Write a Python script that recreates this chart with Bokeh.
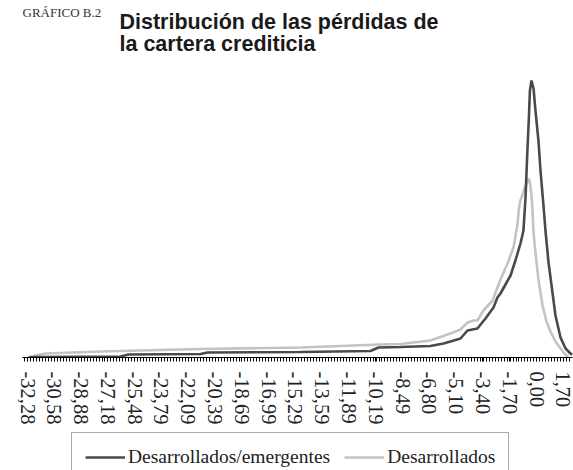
import numpy as np
from bokeh.plotting import figure
from bokeh.layouts import column
from bokeh.models import Range1d, FixedTicker, Legend, LegendItem, Label
from bokeh.embed import file_html
from bokeh.resources import INLINE

# Tick labels of the category axis (loss values, %)
tick_labels = ["-32,28", "-30,58", "-28,88", "-27,18", "-25,48", "-23,79", "-22,09",
               "-20,39", "-18,69", "-16,99", "-15,29", "-13,59", "-11,89", "-10,19",
               "-8,49", "-6,80", "-5,10", "-3,40", "-1,70", "0,00", "1,70"]
tick_values = [float(s.replace(",", ".")) for s in tick_labels]

# Series: Desarrollados/emergentes (dark)
x_emerg = [-32.22, -31.77, -26.38, -25.88, -21.31, -20.87, -14.97, -10.53, -10.02, -8.63,
           -6.73, -5.90, -5.46, -4.82, -4.38, -3.75, -3.24, -2.73, -2.48, -2.29, -1.97,
           -1.65, -1.34, -1.02, -0.83, -0.70, -0.58, -0.48, -0.42, -0.32, -0.19, -0.07,
           0.12, 0.25, 0.44, 0.57, 0.76, 1.01, 1.20, 1.52, 1.84, 2.15, 2.28]
y_emerg = [0, 0.5, 1, 3, 3.5, 5, 5.5, 6.5, 10, 10.5,
           11.5, 14, 16, 19, 27, 29, 39, 50, 60, 64, 73,
           82, 97, 114, 127, 160, 207, 242, 267, 277, 269, 247,
           217, 187, 152, 126, 95, 65, 42, 20, 9, 4, 3]

# Series: Desarrollados (light)
x_desarr = [-32.22, -31.77, -31.14, -27.65, -21.31, -14.97, -9.90, -8.63, -6.73, -5.46,
            -4.82, -4.38, -4.00, -3.75, -3.37, -2.79, -2.29, -1.84, -1.46, -1.21, -1.11,
            -1.02, -0.83, -0.64, -0.48, -0.39, -0.29, -0.19, -0.07, 0.12, 0.38, 0.63,
            0.88, 1.20, 1.52, 1.77, 2.03]
y_desarr = [0, 2, 4, 6, 8.5, 10, 13, 13.5, 17, 24,
            28, 35, 37, 37, 47, 57, 78, 94, 110, 133, 150,
            157, 166, 174, 179, 172, 157, 125, 105, 78, 52, 36,
            26, 16, 9, 4, 0]

series_names = ["Desarrollados/emergentes", "Desarrollados"]
series_colors = ["#4a4a4a", "#c3c3c3"]
title_lines = ["Distribución de las pérdidas de", "la cartera crediticia"]
chart_tag = "GRÁFICO B.2"


def bare(fig):
    fig.grid.visible = False
    fig.outline_line_color = None
    fig.background_fill_color = "white"
    fig.border_fill_color = "white"
    return fig


# --- main chart (axis line at page y = 357)
MAIN_H = 432
FRAME_H = 357
p = bare(figure(width=573, height=MAIN_H, output_backend="svg", toolbar_location=None,
                x_range=Range1d(-32.6, 2.28), y_range=Range1d(0, FRAME_H),
                y_axis_location=None, min_border_left=22, min_border_right=1,
                min_border_top=0, min_border_bottom=MAIN_H - FRAME_H))

r_light = p.line(x_desarr, y_desarr, line_color=series_colors[1], line_width=2.6)
r_dark = p.line(x_emerg, y_emerg, line_color=series_colors[0], line_width=2.6)

step = (tick_values[1] - tick_values[0]) / 9.0
minor = list(np.arange(tick_values[0], -32.6, -step)[1:][::-1]) + \
    list(np.arange(tick_values[0], 2.28, step))
ax = p.xaxis[0]
ax.ticker = FixedTicker(ticks=tick_values, minor_ticks=minor)
ax.major_label_overrides = {v: s for v, s in zip(tick_values, tick_labels)}
ax.major_label_orientation = "vertical"
ax.major_label_text_font = "Liberation Serif"
ax.major_label_text_font_size = "20.5px"
ax.major_label_text_color = "#222222"
ax.major_label_standoff = 10
ax.axis_line_color = "black"
ax.axis_line_width = 1
ax.major_tick_in = 0
ax.major_tick_out = 4
ax.minor_tick_in = 0
ax.minor_tick_out = 4
ax.major_tick_line_color = "black"
ax.minor_tick_line_color = "black"

for txt, yy in zip(title_lines, [336, 314]):
    p.add_layout(Label(x=97, y=yy, x_units="screen", y_units="screen", text=txt,
                       text_font="Liberation Sans", text_font_style="bold",
                       text_font_size="21.5px", text_color="#1a1a1a",
                       text_baseline="alphabetic", text_align="left"))
p.add_layout(Label(x=0, y=345, x_units="screen", y_units="screen", text=chart_tag,
                   text_font="Liberation Serif", text_font_size="13px",
                   text_color="#333333", text_baseline="alphabetic", text_align="left"))

# --- legend strip (bottom of the box is cropped, as in the reference)
p2 = bare(figure(width=573, height=38, output_backend="svg", toolbar_location=None,
                 x_range=Range1d(0, 1), y_range=Range1d(-2, -1),
                 x_axis_location=None, y_axis_location=None,
                 min_border_left=0, min_border_right=0, min_border_top=0, min_border_bottom=0))
g_dark = p2.line(x_emerg, y_emerg, line_color=series_colors[0], line_width=2.6)
g_light = p2.line(x_desarr, y_desarr, line_color=series_colors[1], line_width=2.6)
legend = Legend(items=[LegendItem(label=series_names[0], renderers=[g_dark]),
                       LegendItem(label=series_names[1], renderers=[g_light])],
                orientation="horizontal", location=(49, -12),
                label_text_font="Liberation Serif", label_text_font_size="19.5px",
                label_text_color="#222222", glyph_width=40, glyph_height=20,
                label_height=20, label_standoff=3, spacing=14, padding=13, margin=0,
                border_line_color="#555555", border_line_width=1.5,
                background_fill_color="white", background_fill_alpha=1.0)
p2.add_layout(legend, "center")

layout = column(p, p2, spacing=0)
open("out.html", "w").write(file_html(layout, INLINE))
